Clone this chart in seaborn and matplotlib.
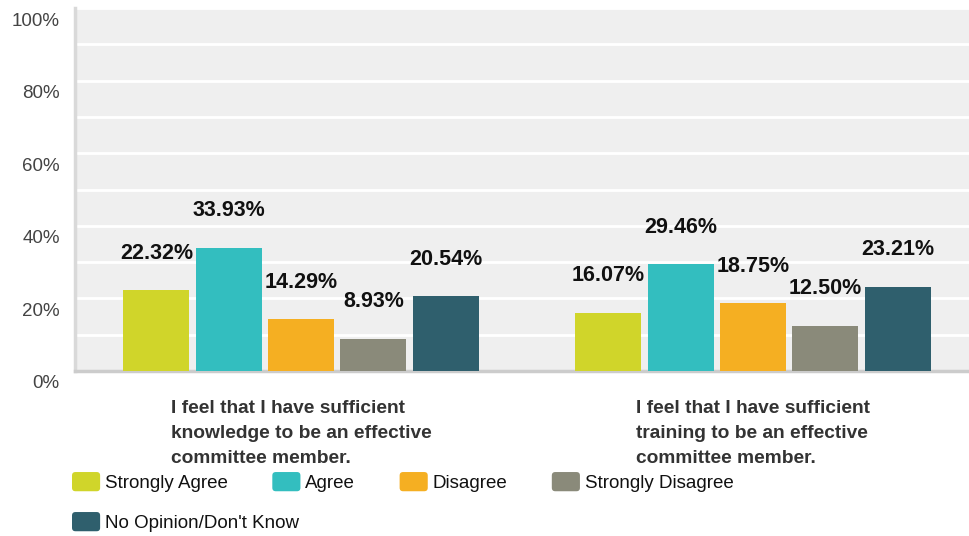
import numpy as np
import pandas as pd
import seaborn as sns
import matplotlib
matplotlib.use("Agg")
import matplotlib.pyplot as plt
from matplotlib.transforms import ScaledTranslation
from matplotlib.patches import Patch, FancyBboxPatch
from matplotlib.legend_handler import HandlerPatch

questions = [
    "I feel that I have sufficient\nknowledge to be an effective\ncommittee member.",
    "I feel that I have sufficient\ntraining to be an effective\ncommittee member.",
]
responses = ["Strongly Agree", "Agree", "Disagree", "Strongly Disagree", "No Opinion/Don't Know"]
knowledge = [22.32, 33.93, 14.29, 8.93, 20.54]
training = [16.07, 29.46, 18.75, 12.50, 23.21]
colors = ["#D0D52A", "#33BEBF", "#F5AF22", "#8A8A7A", "#2F5F6D"]
ytick_vals = [0, 20, 40, 60, 80, 100]
ytick_labels = ["0%", "20%", "40%", "60%", "80%", "100%"]

df = pd.DataFrame({
    "question": np.repeat(questions, len(responses)),
    "response": responses * 2,
    "pct": knowledge + training,
})

sns.set_style("white")
plt.rcParams["font.family"] = ["Liberation Sans", "DejaVu Sans"]

W, H = 969, 536
fig = plt.figure(figsize=(W / 100, H / 100), dpi=100)
fig.patch.set_facecolor("white")
ax = fig.add_axes([75 / W, 165 / H, 904 / W, 363 / H])
ax.set_facecolor("#EFEFEF")

sns.barplot(data=df, x="question", y="pct", hue="response", hue_order=responses,
            order=questions, palette=colors, saturation=1, width=0.8, gap=0.09,
            errorbar=None, legend=False, ax=ax, zorder=3, linewidth=0)

ax.set_xlim(-0.5, 1.5)
ax.set_ylim(0, 100)
ax.set_yticks(ytick_vals)
ax.set_yticklabels(ytick_labels)
ax.set_yticks(list(range(10, 100, 20)), minor=True)
ax.grid(axis="y", which="both", color="white", linewidth=2.0, zorder=0)
ax.set_axisbelow(True)
ax.set_xlabel("")
ax.set_ylabel("")

for side in ["top", "right"]:
    ax.spines[side].set_visible(False)
ax.spines["left"].set_color("#D9D9D9")
ax.spines["left"].set_linewidth(2.5)
ax.spines["bottom"].set_color("#CCCCCC")
ax.spines["bottom"].set_linewidth(2.5)

ax.tick_params(axis="y", which="both", length=0, pad=11, labelsize=13.5, labelcolor="#444444")
ax.tick_params(axis="x", length=0, pad=21, labelsize=13.8, labelcolor="#333333")
off = ScaledTranslation(0, -11 / 100, fig.dpi_scale_trans)
for lab in ax.get_yticklabels():
    lab.set_transform(lab.get_transform() + off)
for lab in ax.get_xticklabels():
    lab.set_fontweight("bold")
    lab.set_multialignment("left")
    lab.set_linespacing(1.6)

for cont in ax.containers:
    ax.bar_label(cont, labels=[f"{v:.2f}%" for v in cont.datavalues], padding=19,
                 fontsize=15.5, fontweight="bold", color="#111111")


def rounded(legend, orig_handle, xdescent, ydescent, width, height, fontsize):
    return FancyBboxPatch((-xdescent, -ydescent), width, height,
                          boxstyle="round,pad=0,rounding_size=2.5")


handles = [Patch(facecolor=c, edgecolor="none") for c in colors]
hmap = {Patch: HandlerPatch(patch_func=rounded)}
common = dict(frameon=False, fontsize=13.5, handlelength=1.5, handleheight=1.2,
              handletextpad=0.25, borderpad=0, borderaxespad=0,
              bbox_transform=fig.transFigure, loc="center left", handler_map=hmap,
              labelcolor="#111111")
leg1 = fig.legend(handles[:4], responses[:4], ncol=4, columnspacing=2.38,
                  bbox_to_anchor=(72 / W, 1 - 482 / H), **common)
leg2 = fig.legend(handles[4:], responses[4:], ncol=1,
                  bbox_to_anchor=(72 / W, 1 - 522 / H), **common)

fig.savefig("out.png", dpi=100)
